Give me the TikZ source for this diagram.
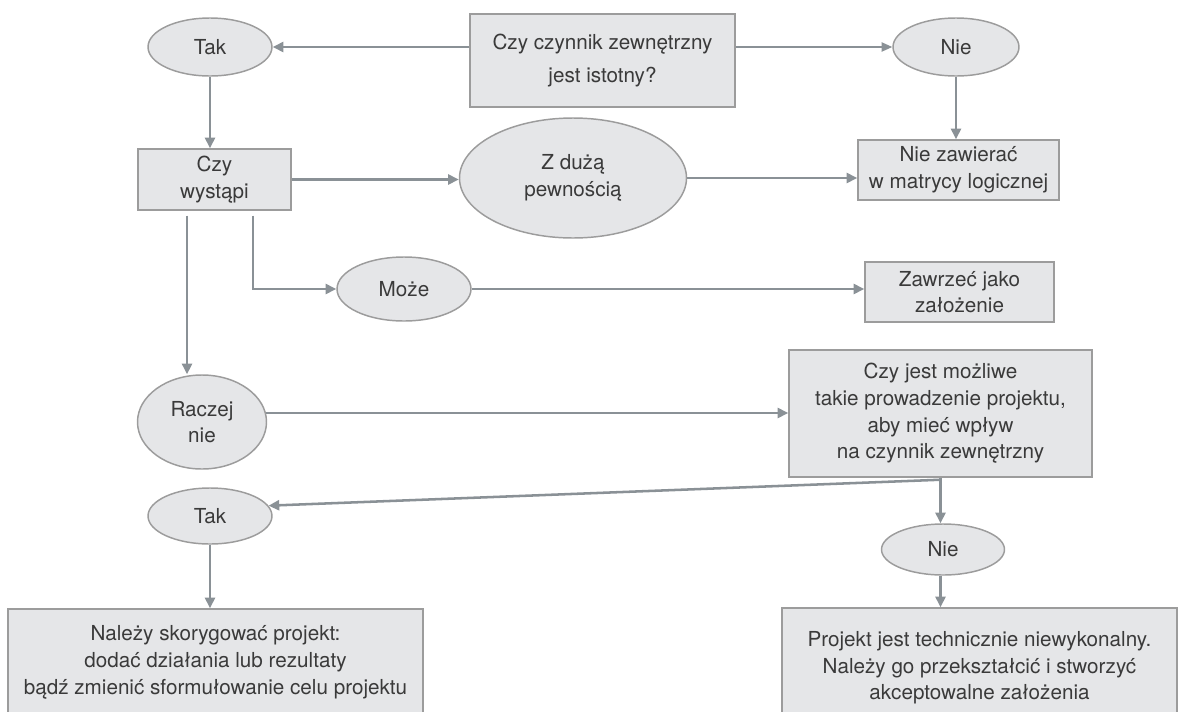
\documentclass[tikz,border=0pt]{standalone}
\usepackage{fontspec}
\setmainfont{TeX Gyre Heros}
\usetikzlibrary{arrows.meta,shapes.geometric}
\definecolor{nodefill}{HTML}{E5E6E8}
\definecolor{nodeline}{HTML}{9C9C9C}
\definecolor{wire}{HTML}{8A9196}
\definecolor{ink}{HTML}{3A3A3A}

\begin{document}
\begin{tikzpicture}[x=0.75pt,y=-0.75pt,
  every node/.style={text=ink, font=\fontsize{15.5}{20}\selectfont, align=center, inner sep=0pt},
  boxnode/.style={draw=nodeline, fill=nodefill, line width=1.1pt, rectangle},
  oval/.style={draw=nodeline, fill=nodefill, line width=1.1pt, ellipse},
  arr/.style={draw=wire, line width=1.9pt, -{Triangle[length=8pt,width=7.5pt]}},
  thinarr/.style={draw=wire, line width=0.9pt, -{Triangle[length=8pt,width=7pt]}},
]
\useasboundingbox (0,0) rectangle (1179,711);
\clip (0,0) rectangle (1179,711);

% question and answers, top row
\node[boxnode, minimum width=265*0.75pt, minimum height=93*0.75pt] (q1) at (602.5,60.5) {Czy czynnik zewnętrzny\\[4.5pt]jest istotny?};
\node[oval, minimum width=124*0.75pt, minimum height=58*0.75pt] (tak1) at (210,47) {Tak};
\node[oval, minimum width=126*0.75pt, minimum height=58*0.75pt] (nie1) at (956,47) {Nie};

% likelihood branch
\node[boxnode, minimum width=153*0.75pt, minimum height=61*0.75pt] (wyst) at (214.5,179.5) {Czy\\wystąpi};
\node[oval, minimum width=227*0.75pt, minimum height=120*0.75pt] (zduza) at (573,178) {Z dużą\\pewnością};
\node[boxnode, minimum width=201*0.75pt, minimum height=60*0.75pt] (niezaw) at (958.5,170) {Nie zawierać\\w matrycy logicznej};
\node[oval, minimum width=134*0.75pt, minimum height=64*0.75pt] (moze) at (404,289) {Może};
\node[boxnode, minimum width=189*0.75pt, minimum height=60*0.75pt] (zawrz) at (959.5,292) {Zawrzeć jako\\założenie};
\node[oval, minimum width=129*0.75pt, minimum height=94*0.75pt] (raczej) at (202,422) {Raczej\\nie};

% influence question and outcomes
\node[boxnode, minimum width=303*0.75pt, minimum height=127*0.75pt] (q2) at (940.5,413.5) {Czy jest możliwe\\takie prowadzenie projektu,\\aby mieć wpływ\\na czynnik zewnętrzny};
\node[oval, minimum width=124*0.75pt, minimum height=56*0.75pt] (tak2) at (210,516) {Tak};
\node[oval, minimum width=123*0.75pt, minimum height=51*0.75pt] (nie2) at (943,549.5) {Nie};
\node[boxnode, minimum width=415*0.75pt, minimum height=107*0.75pt] (fixL) at (215.5,662.5) {Należy skorygować projekt:\\dodać działania lub rezultaty\\bądź zmienić sformułowanie celu projektu};
\node[boxnode, minimum width=395*0.75pt, minimum height=120*0.75pt] (fixR) at (979.5,668) {Projekt jest technicznie niewykonalny.\\Należy go przekształcić i stworzyć\\akceptowalne założenia};

% branch start points below "Czy wystąpi"
\coordinate (b1) at ([xshift=-20.6pt,yshift=-3.75pt]wyst.south);
\coordinate (b2) at ([xshift=28.9pt,yshift=-3.75pt]wyst.south);

% connectors
\draw[arr] (q1.west |- tak1.east) -- (tak1.east);
\draw[thinarr] (q1.east |- nie1.west) -- (nie1.west);
\draw[arr] (tak1.south) -- (tak1.south |- wyst.north);
\draw[arr] (nie1.south) -- (nie1.south |- niezaw.north);
\draw[arr] (wyst.east) -- (wyst.east -| zduza.west);
\draw[arr] (zduza.east) -- (zduza.east -| niezaw.west);
\draw[arr] (b2) |- (moze.west);
\draw[arr] (b1) -- (b1 |- raczej.north);
\draw[arr] (moze.east) -- (moze.east -| zawrz.west);
\draw[arr] (raczej.8) -- (raczej.8 -| q2.west);
\draw[arr] ([yshift=-1.5pt]q2.south) -- (tak2.10);
\draw[arr] (q2.south) -- (q2.south |- nie2.north);
\draw[arr] (q2.south |- nie2.south) -- (q2.south |- fixR.north);
\draw[arr] (tak2.south) -- (tak2.south |- fixL.north);
\end{tikzpicture}
\end{document}
